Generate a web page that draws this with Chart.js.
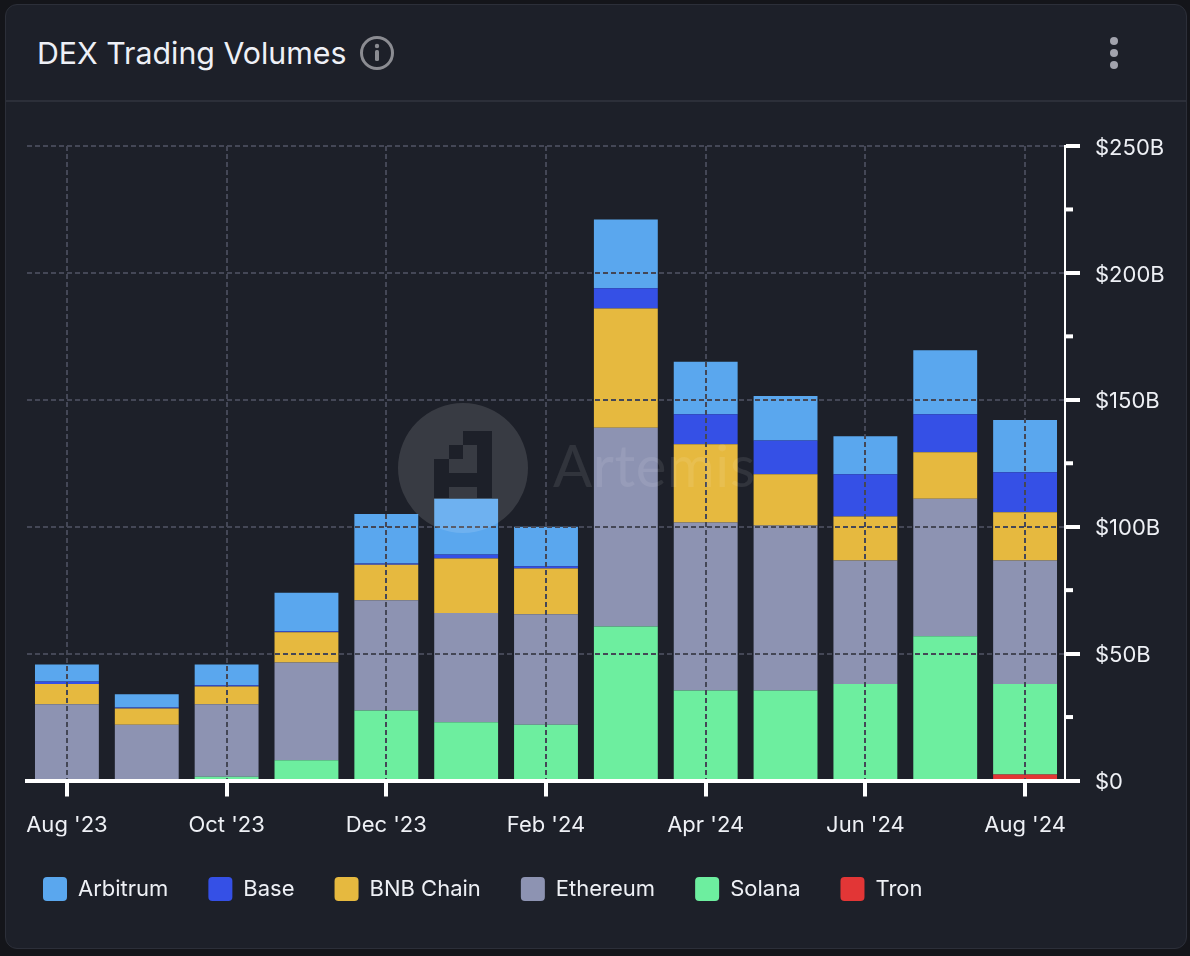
<!DOCTYPE html>
<html>
<head>
<meta charset="utf-8">
<title>DEX Trading Volumes</title>
<script src="https://cdn.jsdelivr.net/npm/chart.js@4"></script>
<style>
    html, body { margin: 0; padding: 0; width: 1190px; height: 956px; background: #14151a; overflow: hidden; font-family: Inter, sans-serif; }
    #card { position: absolute; left: 5px; top: 4px; width: 1180px; height: 943px; background: #1d2029; border: 1px solid #2c2f39; border-radius: 12px; }
    #divider { position: absolute; left: 6px; top: 100px; width: 1180px; height: 2px; background: #2c2f39; }
    #title { position: absolute; left: 37px; top: 35px; font-size: 30.3px; line-height: 36px; font-weight: 400; color: #eef0f6; }
    #box { position: absolute; left: 0; top: 0; width: 1190px; height: 956px; }
    svg { position: absolute; left: 0; top: 0; pointer-events: none; }
</style>
</head>
<body>
<div id="card"></div>
<div id="divider"></div>
<div id="title">DEX Trading Volumes</div>
<div id="box"><canvas id="dexChart"></canvas></div>
<svg width="1190" height="956">
    <circle cx="377" cy="53" r="15.5" fill="none" stroke="#8b8c92" stroke-width="3"/>
    <circle cx="377" cy="46" r="2.2" fill="#8b8c92"/>
    <rect x="375" y="50" width="4" height="11" rx="1.5" fill="#8b8c92"/>
    <circle cx="1114" cy="41" r="4" fill="#a2a3ad"/>
    <circle cx="1114" cy="53" r="4" fill="#a2a3ad"/>
    <circle cx="1114" cy="65" r="4" fill="#a2a3ad"/>
    <path fill="#ffffff" fill-opacity="0.12" fill-rule="evenodd" d="M398 468a65 65 0 1 0 130 0a65 65 0 1 0 -130 0z
        M463 431h29v67h-58v-39h15v-14h14z
        M463 445v14h-14v14h28v-28z
        M449 487v11h28v-11z"/>
    <text x="553" y="487" font-family="Lato, sans-serif" font-size="58" textLength="202" fill="#ffffff" fill-opacity="0.09">Artemis</text>
</svg>
<script>
const months = ["Aug '23", "Sep '23", "Oct '23", "Nov '23", "Dec '23", "Jan '24", "Feb '24", "Mar '24", "Apr '24", "May '24", "Jun '24", "Jul '24", "Aug '24"];

// $ billions per month, bottom of the stack first
const tron = [0, 0, 0, 0, 0, 0, 0, 0, 0, 0, 0, 0, 2.4];
const solana = [0, 0, 1.5, 8, 27.6, 23, 22, 60.7, 35.5, 35.5, 38, 56.8, 35.6];
const ethereum = [30, 22, 28.5, 38.5, 43.4, 43, 43.5, 78.3, 66.2, 65, 48.7, 54.2, 48.7];
const bnbChain = [8, 6.4, 7, 11.9, 14, 21.5, 18, 47, 30.8, 20.2, 17.3, 18.3, 19];
const base = [1, 0.4, 0.5, 0.4, 0.5, 1.5, 0.9, 8, 11.8, 13.3, 16.7, 15, 15.8];
const arbitrum = [6.7, 5.2, 8.2, 15.2, 19.5, 22, 15.6, 27, 20.7, 17.5, 14.9, 25.2, 20.5];

const minorTicks = [25, 75, 125, 175, 225];

const gridColor = '#444756';
const textColor = '#eef0f5';

function series(label, values, color) {
    return {
        label: label,
        data: values,
        backgroundColor: color,
        borderWidth: 0,
        barPercentage: 0.8,
        categoryPercentage: 1
    };
}

// short ticks between the labelled ones, chart.js only has one tick length per axis
const minorTickPlugin = {
    id: 'minorTicks',
    afterDraw(chart) {
        const y = chart.scales.y;
        const ctx = chart.ctx;
        ctx.save();
        ctx.fillStyle = '#ffffff';
        minorTicks.forEach(function (v) {
            ctx.fillRect(y.left, y.getPixelForValue(v) - 2, 8, 4);
        });
        ctx.restore();
    }
};

// legend box spans the plot padding, move it to where the card wants it
const legendPlacePlugin = {
    id: 'legendPlace',
    afterLayout(chart) {
        chart.legend.left = 3;
        chart.legend.top = 837;
    }
};

new Chart(document.getElementById('dexChart'), {
    type: 'bar',
    data: {
        labels: months,
        datasets: [
            series('Tron', tron, '#e23636'),
            series('Solana', solana, '#6dee9f'),
            series('Ethereum', ethereum, '#8d93b2'),
            series('BNB Chain', bnbChain, '#e6b93f'),
            series('Base', base, '#3550e6'),
            series('Arbitrum', arbitrum, '#5aa7ee')
        ]
    },
    plugins: [minorTickPlugin, legendPlacePlugin],
    options: {
        responsive: true,
        maintainAspectRatio: false,
        animation: false,
        layout: { padding: { left: 27, top: 146, right: 0, bottom: 45.5 } },
        plugins: {
            tooltip: { enabled: false },
            legend: {
                position: 'bottom',
                align: 'start',
                reverse: true,
                labels: {
                    boxWidth: 24,
                    boxHeight: 24,
                    useBorderRadius: true,
                    borderRadius: 4,
                    padding: 40,
                    color: textColor,
                    font: { family: 'Inter', size: 22 }
                }
            }
        },
        scales: {
            x: {
                stacked: true,
                afterFit(scale) { scale.height = 56; },
                border: { color: '#ffffff', width: 4, dash: [5, 3], z: 2 },
                grid: { color: gridColor, lineWidth: 2, offset: false, z: 1, tickColor: '#ffffff', tickWidth: 4, tickLength: 16 },
                ticks: {
                    color: textColor,
                    autoSkip: true,
                    maxTicksLimit: 7,
                    maxRotation: 0,
                    padding: 16,
                    font: { family: 'Inter', size: 22 }
                }
            },
            y: {
                position: 'right',
                stacked: true,
                min: 0,
                max: 250,
                afterFit(scale) { scale.width = 125; },
                border: { color: '#ffffff', width: 2, dash: [5, 3], z: 2 },
                grid: { color: gridColor, lineWidth: 2, z: 1, tickColor: '#ffffff', tickWidth: 4, tickLength: 15 },
                ticks: {
                    stepSize: 50,
                    color: textColor,
                    padding: 15,
                    labelOffset: 2,
                    font: { family: 'Inter', size: 22 },
                    callback: function (value) {
                        return value === 0 ? '$0' : '$' + value + 'B';
                    }
                }
            }
        }
    }
});
</script>
</body>
</html>
